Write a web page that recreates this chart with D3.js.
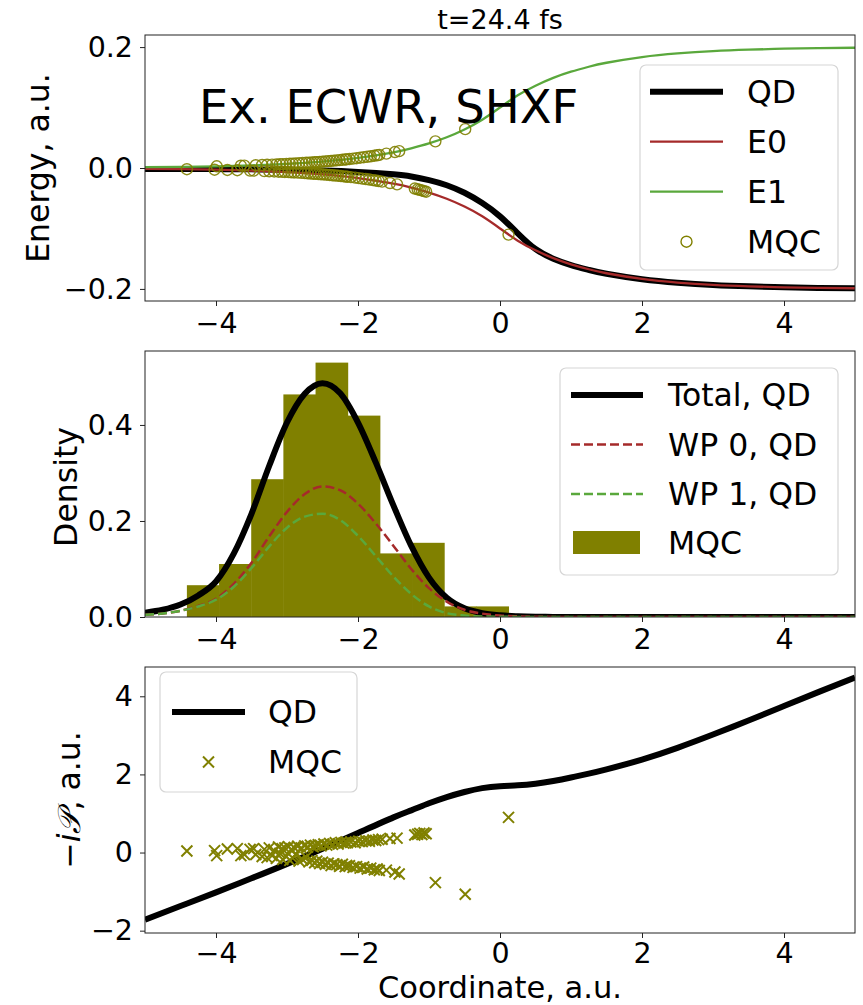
<!DOCTYPE html>
<html>
<head>
<meta charset="utf-8">
<script src="https://cdn.jsdelivr.net/npm/d3@7"></script>
<style>
  body { margin: 0; background: #fff; }
  svg { display: block; }
  text { font-family: "DejaVu Sans", sans-serif; fill: #000; }
</style>
</head>
<body>
<svg id="chart" width="863" height="1005"></svg>
<script>
// ---------- data ----------
const titleText = "t=24.4 fs";
const methodLabel = "Ex. ECWR, SHXF";
const xTicks = [-4, -2, 0, 2, 4];

// Energy panel: grid, adiabatic surfaces and the exact (QD) surface
const gridX = [-5, -4.5, -4, -3.5, -3, -2.5, -2, -1.5, -1.25, -1, -0.75, -0.5, -0.25, 0, 0.25, 0.5, 0.75, 1, 1.25, 1.5, 2, 2.5, 3, 3.5, 4, 4.5, 5];
const energyE0 = [-0.0013, -0.0018, -0.0028, -0.0043, -0.0068, -0.0106, -0.0166, -0.0260, -0.0325, -0.0407, -0.0509, -0.0638, -0.0799, -0.1000, -0.1202, -0.1362, -0.1491, -0.1593, -0.1675, -0.1741, -0.1835, -0.1895, -0.1933, -0.1957, -0.1973, -0.1983, -0.1989];
const energyE1 = [0.0013, 0.0018, 0.0028, 0.0043, 0.0068, 0.0106, 0.0166, 0.0260, 0.0325, 0.0407, 0.0509, 0.0638, 0.0799, 0.1000, 0.1202, 0.1362, 0.1491, 0.1593, 0.1675, 0.1741, 0.1835, 0.1895, 0.1933, 0.1957, 0.1973, 0.1983, 0.1989];
const energyQD = [-0.0015, -0.0016, -0.0018, -0.0022, -0.0030, -0.0042, -0.0065, -0.0105, -0.0140, -0.0200, -0.0285, -0.0410, -0.0580, -0.0800, -0.1080, -0.1340, -0.1500, -0.1605, -0.1685, -0.1750, -0.1840, -0.1897, -0.1934, -0.1958, -0.1974, -0.1984, -0.1990];
const energyTicks = [-0.2, 0.0, 0.2];

// Density panel: nuclear densities on a finer grid
const densX = [-5, -4.75, -4.5, -4.25, -4, -3.75, -3.5, -3.25, -3, -2.75, -2.5, -2.25, -2, -1.75, -1.5, -1.25, -1, -0.75, -0.5, -0.25, 0, 0.25, 0.5, 0.75, 1, 1.25, 1.5, 1.75, 2, 2.25, 2.5, 2.75, 3, 3.25, 3.5, 3.75, 4, 4.25, 4.5, 4.75, 5];
const densTotal = [0.009, 0.015, 0.026, 0.045, 0.074, 0.132, 0.215, 0.315, 0.405, 0.465, 0.487, 0.466, 0.405, 0.322, 0.232, 0.148, 0.082, 0.040, 0.018, 0.008, 0.0035, 0.0015, 0.0005, 0.0002, 0, 0, 0, 0, 0, 0, 0, 0, 0, 0, 0, 0, 0, 0, 0, 0, 0];
const densWP0 = [0.0045, 0.0075, 0.013, 0.023, 0.038, 0.069, 0.113, 0.168, 0.219, 0.256, 0.272, 0.264, 0.236, 0.195, 0.148, 0.100, 0.060, 0.032, 0.015, 0.007, 0.003, 0.0013, 0.0005, 0.0002, 0, 0, 0, 0, 0, 0, 0, 0, 0, 0, 0, 0, 0, 0, 0, 0, 0];
const densWP1 = [0.0045, 0.0075, 0.013, 0.022, 0.036, 0.063, 0.102, 0.147, 0.186, 0.209, 0.215, 0.202, 0.169, 0.127, 0.084, 0.048, 0.022, 0.008, 0.003, 0.001, 0.0005, 0.0002, 0, 0, 0, 0, 0, 0, 0, 0, 0, 0, 0, 0, 0, 0, 0, 0, 0, 0, 0];
const densityTicks = [0.0, 0.2, 0.4];
const histBinCount = 10;

// Quantum momentum panel: exact curve
const momentumX = [-5, -4.5, -4, -3.5, -3, -2.5, -2, -1.5, -1.25, -1, -0.75, -0.5, -0.25, 0, 0.25, 0.5, 0.75, 1, 1.25, 1.5, 2, 2.5, 3, 3.5, 4, 4.5, 5];
const momentumQD = [-1.72, -1.37, -1.02, -0.66, -0.29, 0.10, 0.50, 0.90, 1.08, 1.26, 1.42, 1.55, 1.65, 1.70, 1.72, 1.76, 1.83, 1.92, 2.02, 2.13, 2.38, 2.68, 3.02, 3.38, 3.75, 4.12, 4.48];
const momentumTicks = [-2, 0, 2, 4];

// MQC trajectories: position, active-state energy, quantum momentum
const mqcX = [
  -4.41, -4.02, -3.99,
  -3.84, -3.70, -3.65, -3.60, -3.52,
  -3.47, -3.44, -3.35, -3.32, -3.28, -3.25, -3.21, -3.18, -3.15, -3.12, -3.10, -3.07, -3.06,
  -3.03, -3.01, -2.98, -2.96, -2.94, -2.92, -2.90, -2.88, -2.85, -2.83, -2.80, -2.78, -2.75, -2.73, -2.71, -2.69, -2.67, -2.65, -2.63, -2.61, -2.60,
  -2.58, -2.56, -2.54, -2.52, -2.50, -2.48, -2.46, -2.44, -2.42, -2.40, -2.38, -2.36, -2.34, -2.32, -2.30, -2.28, -2.26, -2.24, -2.22, -2.20, -2.18, -2.17, -2.16, -2.15,
  -2.12, -2.10, -2.07, -2.04, -2.02, -1.99, -1.97, -1.94, -1.92, -1.89, -1.87, -1.84, -1.82, -1.79, -1.77, -1.75, -1.73, -1.71, -1.70,
  -1.66, -1.60, -1.55, -1.48, -1.45, -1.42,
  -1.20, -1.16, -1.13, -1.10, -1.07, -1.04, -0.91,
  -0.49,
  0.12
];
const mqcEnergy = [
  -0.0020, -0.0028, 0.0028,
  -0.0032, -0.0036, 0.0038, 0.0040, -0.0043,
  -0.0044, 0.0046, 0.0050, -0.0051, 0.0053, -0.0054, 0.0056, -0.0057, 0.0059, -0.0061, 0.0062, -0.0063, 0.0064,
  -0.0066, 0.0067, -0.0068, 0.0070, -0.0071, 0.0072, -0.0074, 0.0075, -0.0077, 0.0078, -0.0080, 0.0082, -0.0084, 0.0086, -0.0087, 0.0089, -0.0091, 0.0092, -0.0094, 0.0096, -0.0096,
  0.0098, -0.0100, 0.0102, -0.0104, 0.0105, -0.0107, 0.0109, -0.0111, 0.0113, -0.0115, 0.0117, -0.0120, 0.0122, -0.0124, 0.0126, -0.0128, 0.0131, -0.0133, 0.0136, -0.0138, 0.0141, -0.0142, 0.0143, -0.0144,
  0.0148, -0.0151, 0.0155, -0.0159, 0.0162, -0.0167, 0.0170, -0.0175, 0.0178, -0.0183, 0.0186, -0.0191, 0.0194, -0.0200, 0.0203, -0.0207, 0.0211, -0.0215, 0.0217,
  -0.0225, 0.0237, -0.0248, 0.0264, -0.0271, 0.0279,
  -0.0340, -0.0352, -0.0362, -0.0372, -0.0382, -0.0392, 0.0441,
  0.0643,
  -0.1102
];
const mqcMomentum = [
  0.04, 0.05, -0.08,
  0.09, 0.10, -0.08, -0.05, 0.08,
  0.10, -0.05, -0.10, 0.08, -0.13, 0.12, -0.08, 0.05, -0.15, 0.14, -0.02, 0.10, -0.18,
  0.12, -0.10, 0.15, -0.20, 0.08, -0.14, 0.13, -0.05, 0.16, -0.22, 0.12, -0.18, 0.17, -0.12, 0.14, -0.24, 0.19, -0.20, 0.15, -0.26, 0.18,
  -0.22, 0.20, -0.28, 0.17, -0.25, 0.22, -0.30, 0.19, -0.27, 0.23, -0.33, 0.21, -0.29, 0.25, -0.31, 0.22, -0.35, 0.26, -0.30, 0.24, -0.36, 0.27, -0.33, 0.25,
  -0.34, 0.27, -0.38, 0.25, -0.36, 0.29, -0.40, 0.28, -0.37, 0.30, -0.42, 0.29, -0.40, 0.32, -0.44, 0.31, -0.42, 0.33, -0.46,
  0.34, -0.45, 0.36, -0.50, 0.37, -0.55,
  0.45, 0.47, 0.49, 0.46, 0.50, 0.48, -0.77,
  -1.07,
  0.90
];

const energyLegend = ["QD", "E0", "E1", "MQC"];
const densityLegend = ["Total, QD", "WP 0, QD", "WP 1, QD", "MQC"];
const momentumLegend = ["QD", "MQC"];

// ---------- styling ----------
const C = { qd: "#000000", e0: "#a52a2a", e1: "#5aa83c", mqc: "#808000" };
const FONT_TICK = 28.5, FONT_LABEL = 31.5, FONT_LEGEND = 31.5;

const svg = d3.select("#chart");
const left = 145, right = 855;
const panels = [
  { top: 35, bottom: 301 },
  { top: 351, bottom: 617 },
  { top: 667, bottom: 933 }
];

const x = d3.scaleLinear().domain([-5, 5]).range([left, right]);
const yE = d3.scaleLinear().domain([-0.22, 0.22]).range([panels[0].bottom, panels[0].top]);
const yD = d3.scaleLinear().domain([0, 0.554]).range([panels[1].bottom, panels[1].top]);
const yP = d3.scaleLinear().domain([-2.06, 4.75]).range([panels[2].bottom, panels[2].top]);

// clip paths
const defs = svg.append("defs");
panels.forEach((p, i) => {
  defs.append("clipPath").attr("id", "clip" + i)
    .append("rect").attr("x", left).attr("y", p.top)
    .attr("width", right - left).attr("height", p.bottom - p.top);
});

function drawAxes(p, y, ticks, fmt, xPad = 7) {
  const gx = svg.append("g").attr("transform", `translate(0,${p.bottom})`)
    .call(d3.axisBottom(x).tickValues(xTicks).tickSize(5).tickPadding(xPad).tickFormat(d3.format("d")));
  const gy = svg.append("g").attr("transform", `translate(${left},0)`)
    .call(d3.axisLeft(y).tickValues(ticks).tickSize(5).tickPadding(7).tickFormat(fmt));
  [gx, gy].forEach(g => {
    g.select(".domain").remove();
    g.selectAll("line").attr("stroke", "#222").attr("stroke-width", 1);
    g.selectAll("text").attr("font-size", FONT_TICK).attr("font-family", "DejaVu Sans").attr("fill", "#000");
  });
}
function drawFrame(p) {
  svg.append("rect").attr("x", left).attr("y", p.top)
    .attr("width", right - left).attr("height", p.bottom - p.top)
    .attr("fill", "none").attr("stroke", "#222").attr("stroke-width", 1);
}

function legendBox(x0, y0, w, h) {
  svg.append("rect").attr("x", x0).attr("y", y0).attr("width", w).attr("height", h)
    .attr("rx", 6).attr("fill", "#fff").attr("fill-opacity", 0.8)
    .attr("stroke", "#d6d6d6").attr("stroke-width", 1.2);
}

const line = (xs, ys, y, curve) => d3.line().curve(curve)
  .x((d, i) => x(xs[i])).y((d, i) => y(ys[i]))(ys);

// ---------- title ----------
svg.append("text").attr("x", 500).attr("y", 29).attr("text-anchor", "middle")
  .attr("font-size", 27).text(titleText);

// ---------- panel 1: energies ----------
{
  const p = panels[0];
  const g = svg.append("g").attr("clip-path", "url(#clip0)");
  g.append("path").attr("d", line(gridX, energyQD, yE, d3.curveNatural)).attr("fill", "none")
    .attr("stroke", C.qd).attr("stroke-width", 6);
  g.append("path").attr("d", line(gridX, energyE0, yE, d3.curveNatural)).attr("fill", "none")
    .attr("stroke", C.e0).attr("stroke-width", 2.3);
  g.append("path").attr("d", line(gridX, energyE1, yE, d3.curveNatural)).attr("fill", "none")
    .attr("stroke", C.e1).attr("stroke-width", 2.3);
  g.selectAll("circle.mqc").data(mqcX).join("circle").attr("class", "mqc")
    .attr("cx", d => x(d)).attr("cy", (d, i) => yE(mqcEnergy[i])).attr("r", 5.5)
    .attr("fill", "none").attr("stroke", C.mqc).attr("stroke-width", 1.4).attr("stroke-opacity", 0.9);

  drawFrame(p);
  drawAxes(p, yE, energyTicks, d3.format(".1f"));

  svg.append("text").attr("x", 199).attr("y", 123).attr("font-size", 46.5).text(methodLabel);

  svg.append("text").attr("transform", `translate(49,${(p.top + p.bottom) / 2}) rotate(-90)`)
    .attr("text-anchor", "middle").attr("font-size", FONT_LABEL).text("Energy, a.u.");

  // legend
  legendBox(640, 65, 198, 205);
  const rows = [91.7, 141.7, 191.7, 241.7];
  const hx0 = 650, hx1 = 723, tx = 747;
  svg.append("line").attr("x1", hx0).attr("x2", hx1).attr("y1", rows[0]).attr("y2", rows[0])
    .attr("stroke", C.qd).attr("stroke-width", 6);
  svg.append("line").attr("x1", hx0).attr("x2", hx1).attr("y1", rows[1]).attr("y2", rows[1])
    .attr("stroke", C.e0).attr("stroke-width", 2.3);
  svg.append("line").attr("x1", hx0).attr("x2", hx1).attr("y1", rows[2]).attr("y2", rows[2])
    .attr("stroke", C.e1).attr("stroke-width", 2.3);
  svg.append("circle").attr("cx", (hx0 + hx1) / 2).attr("cy", rows[3]).attr("r", 5.5)
    .attr("fill", "none").attr("stroke", C.mqc).attr("stroke-width", 1.4);
  energyLegend.forEach((t, i) => {
    svg.append("text").attr("x", tx).attr("y", rows[i]).attr("dy", "0.36em")
      .attr("font-size", FONT_LEGEND).text(t);
  });
}

// ---------- panel 2: densities ----------
{
  const p = panels[1];
  const g = svg.append("g").attr("clip-path", "url(#clip1)");
  const [lo, hi] = d3.extent(mqcX);
  const step = (hi - lo) / histBinCount;
  const thresholds = d3.range(1, histBinCount).map(i => lo + i * step);
  const bins = d3.bin().domain([lo, hi]).thresholds(thresholds)(mqcX);
  const n = mqcX.length;
  g.selectAll("rect.bar").data(bins).join("rect").attr("class", "bar")
    .attr("x", d => x(d.x0)).attr("width", d => x(d.x1) - x(d.x0) + 0.5)
    .attr("y", d => yD(d.length / (n * step)))
    .attr("height", d => yD(0) - yD(d.length / (n * step)))
    .attr("fill", C.mqc);

  g.append("path").attr("d", line(densX, densTotal, yD, d3.curveMonotoneX)).attr("fill", "none")
    .attr("stroke", C.qd).attr("stroke-width", 6);
  g.append("path").attr("d", line(densX, densWP0, yD, d3.curveMonotoneX)).attr("fill", "none")
    .attr("stroke", C.e0).attr("stroke-width", 2.5).attr("stroke-dasharray", "9,4");
  g.append("path").attr("d", line(densX, densWP1, yD, d3.curveMonotoneX)).attr("fill", "none")
    .attr("stroke", C.e1).attr("stroke-width", 2.5).attr("stroke-dasharray", "9,4");

  drawFrame(p);
  drawAxes(p, yD, densityTicks, d3.format(".1f"));

  svg.append("text").attr("transform", `translate(77,487) rotate(-90)`)
    .attr("text-anchor", "middle").attr("font-size", FONT_LABEL).text("Density");

  legendBox(560, 368, 278, 207);
  const rows = [395, 444.5, 494, 542.5];
  const hx0 = 571, hx1 = 643, tx = 668;
  svg.append("line").attr("x1", hx0).attr("x2", hx1).attr("y1", rows[0]).attr("y2", rows[0])
    .attr("stroke", C.qd).attr("stroke-width", 6);
  svg.append("line").attr("x1", hx0).attr("x2", hx1).attr("y1", rows[1]).attr("y2", rows[1])
    .attr("stroke", C.e0).attr("stroke-width", 2.5).attr("stroke-dasharray", "9,4");
  svg.append("line").attr("x1", hx0).attr("x2", hx1).attr("y1", rows[2]).attr("y2", rows[2])
    .attr("stroke", C.e1).attr("stroke-width", 2.5).attr("stroke-dasharray", "9,4");
  svg.append("rect").attr("x", 573).attr("y", rows[3] - 11.5).attr("width", 67).attr("height", 23)
    .attr("fill", C.mqc);
  densityLegend.forEach((t, i) => {
    svg.append("text").attr("x", tx).attr("y", rows[i]).attr("dy", "0.36em")
      .attr("font-size", FONT_LEGEND).text(t);
  });
}

// ---------- panel 3: quantum momentum ----------
{
  const p = panels[2];
  const g = svg.append("g").attr("clip-path", "url(#clip2)");
  g.append("path").attr("d", line(momentumX, momentumQD, yP, d3.curveNatural)).attr("fill", "none")
    .attr("stroke", C.qd).attr("stroke-width", 6);
  const s = 5.5;
  const cross = (cx, cy) => `M${cx - s},${cy - s}L${cx + s},${cy + s}M${cx - s},${cy + s}L${cx + s},${cy - s}`;
  g.selectAll("path.mqc").data(mqcX).join("path").attr("class", "mqc")
    .attr("d", (d, i) => cross(x(d), yP(mqcMomentum[i])))
    .attr("fill", "none").attr("stroke", C.mqc).attr("stroke-width", 2);

  drawFrame(p);
  drawAxes(p, yP, momentumTicks, d3.format("d"), 4.5);

  const lab = svg.append("text").attr("transform", `translate(80,800) rotate(-90)`)
    .attr("text-anchor", "middle").attr("font-size", FONT_LABEL);
  lab.append("tspan").text("\u2212");
  lab.append("tspan").attr("font-style", "italic").text("i");
  lab.append("tspan").attr("font-style", "italic").attr("font-family", "DejaVu Serif").text("\uD835\uDCAB");
  lab.append("tspan").text(", a.u.");

  svg.append("text").attr("x", 500).attr("y", 997.5).attr("text-anchor", "middle")
    .attr("font-size", 30.5).text("Coordinate, a.u.");

  legendBox(160, 672, 197, 120);
  const rows = [712, 762];
  const hx0 = 172, hx1 = 245, tx = 268;
  svg.append("line").attr("x1", hx0).attr("x2", hx1).attr("y1", rows[0]).attr("y2", rows[0])
    .attr("stroke", C.qd).attr("stroke-width", 6);
  svg.append("path").attr("d", cross((hx0 + hx1) / 2, rows[1]))
    .attr("fill", "none").attr("stroke", C.mqc).attr("stroke-width", 2);
  momentumLegend.forEach((t, i) => {
    svg.append("text").attr("x", tx).attr("y", rows[i]).attr("dy", "0.36em")
      .attr("font-size", FONT_LEGEND).text(t);
  });
}
</script>
</body>
</html>
